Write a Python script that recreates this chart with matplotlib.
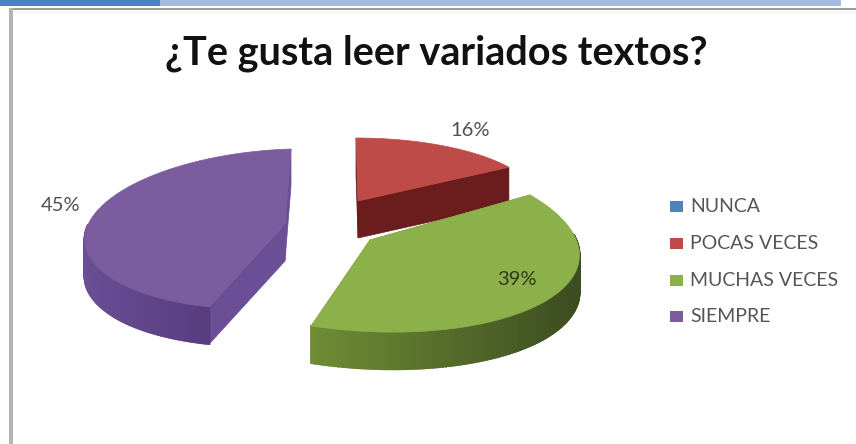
import numpy as np
import matplotlib
matplotlib.use("Agg")
import matplotlib.pyplot as plt
from matplotlib.colors import to_rgb

# datos de la encuesta
title = "¿Te gusta leer variados textos?"
categories = ["NUNCA", "POCAS VECES", "MUCHAS VECES", "SIEMPRE"]
percentages = [0, 16, 39, 45]

# colores
top_colors = ["#4F81BD", "#BE4B48", "#8CB04A", "#7A5C9F"]
wall_light = ["#3A5F8C", "#7A2222", "#6F8D35", "#6A4E96"]
wall_dark = ["#2B4568", "#6B1C1C", "#3C4C20", "#563B7E"]

# geometria de cada porcion en pixeles: centro, radios, cizalla (perspectiva) y vertice
centers = [(358, 201), (358, 201), (356, 240), (280, 229)]
radii = [(180, 63), (180, 63), (222, 92), (195, 80)]
shear = [(-2, 0), (-2, 0), (-25, 5), (11, -6)]
apexes = [(358, 201), (358, 201), (370, 240), (285, 224)]
depth = 37

label_pos = [None, (470, 130), (517, 279), (61, 205)]
legend_y = [206, 243, 280, 316]

plt.rcParams["font.family"] = ["Lato", "DejaVu Sans"]

fig = plt.figure(figsize=(8.56, 4.44), dpi=100)
ax = fig.add_axes([0, 0, 1, 1])
ax.set_xlim(0, 856)
ax.set_ylim(444, 0)
ax.axis("off")

# barra superior y marco de la captura
ax.fill_between([0, 160], 0, 6, color="#4F81BD", lw=0)
ax.fill_between([160, 841], 0, 6, color="#A5BBDD", lw=0)
ax.fill_between([9, 856], 8, 10.5, color="#9E9E9E", lw=0)
ax.fill_between([9, 13], 8, 444, color="#B4B4B4", lw=0)
ax.fill_between([13, 856], 10.5, 14, color="#F8F8F8", lw=0)


def rim(i, theta):
    # punto del borde superior para un angulo medido desde las 12 en sentido horario
    s, c = np.sin(theta), np.cos(theta)
    x = centers[i][0] + radii[i][0] * s + shear[i][0] * c
    y = centers[i][1] - radii[i][1] * c + shear[i][1] * s
    return x, y


def mix(a, b, t):
    a, b = np.array(to_rgb(a)), np.array(to_rgb(b))
    return tuple(a + (b - a) * t)


edges = np.cumsum([0] + percentages) / 100 * 2 * np.pi

for i, value in enumerate(percentages):
    if value == 0:
        continue
    start, end = edges[i], edges[i + 1]
    cx, cy = apexes[i]
    th = np.linspace(start, end, 160)
    xs, ys = rim(i, th)

    # paredes radiales
    for a in (start, end):
        ex, ey = rim(i, a)
        ax.fill([cx, ex, ex, cx], [cy, ey, ey + depth, cy + depth],
                color=wall_dark[i] if i == 1 else wall_light[i], lw=0.5, zorder=2 + i)

    # pared exterior con degradado
    xmin, xmax = xs.min(), xs.max()
    for k in range(len(th) - 1):
        if ys[k + 1] < centers[i][1] - 5:
            continue
        t = (0.5 * (xs[k] + xs[k + 1]) - xmin) / (xmax - xmin)
        if i == 3:
            t = t * 1.6
        col = mix(wall_light[i], wall_dark[i], min(t, 1))
        ax.fill([xs[k], xs[k + 1], xs[k + 1], xs[k]],
                [ys[k], ys[k + 1], ys[k + 1] + depth, ys[k] + depth],
                color=col, lw=1.5, zorder=2 + i)

    # cara superior
    ax.fill(np.r_[cx, xs], np.r_[cy, ys], color=top_colors[i], lw=0.5, zorder=2 + i)

    lx, ly = label_pos[i]
    ax.text(lx, ly, f"{value}%", ha="center", va="center", fontsize=14.5,
            color="#2F3A1C" if i == 2 else "#505050", zorder=10)

ax.text(436, 53, title, ha="center", va="center", fontsize=28.5,
        fontweight="bold", color="#111111")

# leyenda
for i, name in enumerate(categories):
    ax.fill([670, 683, 683, 670],
            [legend_y[i] - 5.5, legend_y[i] - 5.5, legend_y[i] + 5.5, legend_y[i] + 5.5],
            color=top_colors[i], lw=0)
    ax.text(690, legend_y[i], name, ha="left", va="center", fontsize=14, color="#555555")

fig.savefig("out.png", dpi=100)
